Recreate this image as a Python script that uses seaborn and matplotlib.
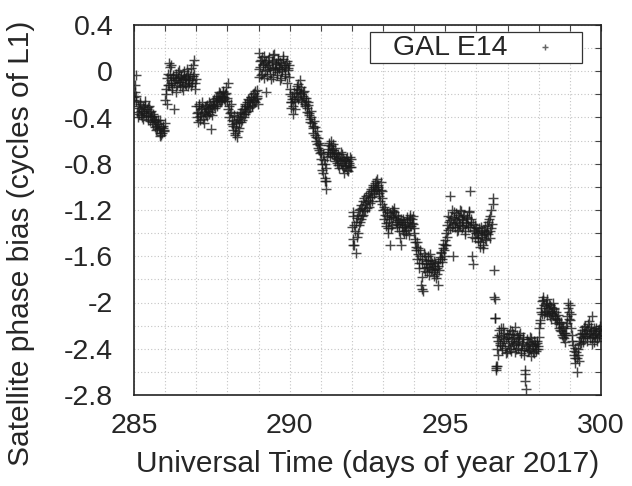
import numpy as np
import pandas as pd
import matplotlib
matplotlib.use("Agg")
import matplotlib.pyplot as plt
from matplotlib.ticker import MultipleLocator
from matplotlib.patches import Rectangle
import seaborn as sns

# ---------------- data ----------------
day_a = [
    285.02, 285.05, 285.08, 285.12, 285.15, 285.18, 285.22, 285.25, 285.28, 285.32, 285.35, 285.38, 285.42, 285.45, 285.48,
    285.52, 285.55, 285.58, 285.62, 285.65, 285.68, 285.72, 285.75, 285.78, 285.82, 285.85, 285.88, 285.92, 285.95, 285.98,
    286.02, 286.05, 286.08, 286.12, 286.15, 286.18, 286.22, 286.25, 286.28, 286.32, 286.35, 286.38, 286.42, 286.45, 286.48,
    286.52, 286.55, 286.58, 286.62, 286.65, 286.68, 286.72, 286.75, 286.78, 286.82, 286.85, 286.88, 286.92, 286.95, 286.98,
    287.02, 287.05, 287.08, 287.12, 287.15, 287.18, 287.22, 287.25, 287.28, 287.32, 287.35, 287.38, 287.42, 287.45, 287.48,
    287.52, 287.55, 287.58, 287.62, 287.65, 287.68, 287.72, 287.75, 287.78, 287.82, 287.85, 287.88, 287.92, 287.95, 287.98,
    288.02, 288.05, 288.08, 288.12, 288.15, 288.18, 288.22, 288.25, 288.28, 288.32, 288.35, 288.38, 288.42, 288.45, 288.48,
    288.52, 288.55, 288.58, 288.62, 288.65, 288.68, 288.72, 288.75, 288.78, 288.82, 288.85, 288.88, 288.92, 288.95, 288.98,
    289.02, 289.05, 289.08, 289.12, 289.15, 289.18, 289.22, 289.25, 289.28, 289.32, 289.35, 289.38, 289.42, 289.45, 289.48,
    289.52, 289.55, 289.58, 289.62, 289.65, 289.68, 289.72, 289.75, 289.78, 289.82, 289.85, 289.88, 289.92, 289.95, 289.98,
    290.02, 290.05, 290.08, 290.12, 290.15, 290.18, 290.22, 290.25, 290.28, 290.32, 290.35, 290.38, 290.42, 290.45, 290.48,
    290.52, 290.55, 290.58, 290.62, 290.65, 290.68, 290.72, 290.75, 290.78, 290.82, 290.85, 290.88, 290.92, 290.95, 290.98,
    291.02, 291.05, 291.08, 291.12, 291.15, 291.18, 291.22, 291.25, 291.28, 291.32, 291.35, 291.38, 291.42, 291.45, 291.48,
    291.52, 291.55, 291.58, 291.62, 291.65, 291.68, 291.72, 291.75, 291.78, 291.82, 291.85, 291.88, 291.92, 291.95, 291.98,
    292.02, 292.05, 292.08, 292.12, 292.15, 292.18, 292.22, 292.25, 292.28, 292.32, 292.35, 292.38, 292.42, 292.45, 292.48,
    292.52, 292.55, 292.58, 292.62, 292.65, 292.68, 292.72, 292.75, 292.78, 292.82, 292.85, 292.88, 292.92, 292.95, 292.98,
    293.02, 293.05, 293.08, 293.12, 293.15, 293.18, 293.22, 293.25, 293.28, 293.32, 293.35, 293.38, 293.42, 293.45, 293.48,
    293.52, 293.55, 293.58, 293.62, 293.65, 293.68, 293.72, 293.75, 293.78, 293.82, 293.85, 293.88, 293.92, 293.95, 293.98,
    294.02, 294.05, 294.08, 294.12, 294.15, 294.18, 294.22, 294.25, 294.28, 294.32, 294.35, 294.38, 294.42, 294.45, 294.48,
    294.52, 294.55, 294.58, 294.62, 294.65, 294.68, 294.72, 294.75, 294.78, 294.82, 294.85, 294.88, 294.92, 294.95, 294.98,
    295.02, 295.05, 295.08, 295.12, 295.15, 295.18, 295.22, 295.25, 295.28, 295.32, 295.35, 295.38, 295.42, 295.45, 295.48,
    295.52, 295.55, 295.58, 295.62, 295.65, 295.68, 295.72, 295.75, 295.78, 295.82, 295.85, 295.88, 295.92, 295.95, 295.98,
    296.02, 296.05, 296.08, 296.12, 296.15, 296.18, 296.22, 296.25, 296.28, 296.32, 296.35, 296.38, 296.42, 296.45, 296.48,
    296.52, 296.55, 296.58, 296.62, 296.65, 296.68, 296.72, 296.75, 296.78, 296.82, 296.85, 296.88, 296.92, 296.95, 296.98,
    297.02, 297.05, 297.08, 297.12, 297.15, 297.18, 297.22, 297.25, 297.28, 297.32, 297.35, 297.38, 297.42, 297.45, 297.48,
    297.52, 297.55, 297.58, 297.62, 297.65, 297.68, 297.72, 297.75, 297.78, 297.82, 297.85, 297.88, 297.92, 297.95, 297.98,
    298.02, 298.05, 298.08, 298.12, 298.15, 298.18, 298.22, 298.25, 298.28, 298.32, 298.35, 298.38, 298.42, 298.45, 298.48,
    298.52, 298.55, 298.58, 298.62, 298.65, 298.68, 298.72, 298.75, 298.78, 298.82, 298.85, 298.88, 298.92, 298.95, 298.98,
    299.02, 299.05, 299.08, 299.12, 299.15, 299.18, 299.22, 299.25, 299.28, 299.32, 299.35, 299.38, 299.42, 299.45, 299.48,
    299.52, 299.55, 299.58, 299.62, 299.65, 299.68, 299.72, 299.75, 299.78, 299.82, 299.85, 299.88, 299.92, 299.95, 299.98,
    296.59, 296.63, 296.645, 286.18, 289.02, 299.72, 294.25, 285.01, 290.03, 291.16, 292.03, 297.56,
]

bias_a = [
    -0.18, -0.03, -0.21, -0.30, -0.37, -0.27, -0.34, -0.40, -0.31, -0.36, -0.29, -0.38, -0.33, -0.42, -0.30,
    -0.35, -0.39, -0.44, -0.37, -0.41, -0.48, -0.43, -0.50, -0.46, -0.53, -0.42, -0.55, -0.49, -0.52, -0.45,
    -0.20, -0.28, -0.12, 0.07, -0.03, -0.10, -0.16, -0.05, -0.33, -0.08, -0.02, -0.12, -0.06, 0.01, -0.09,
    -0.04, -0.14, -0.07, 0.00, -0.11, -0.05, -0.02, -0.13, -0.08, 0.03, -0.10, -0.04, 0.10, -0.15, -0.07,
    -0.36, -0.44, -0.30, -0.39, -0.33, -0.27, -0.41, -0.35, -0.31, -0.38, -0.29, -0.34, -0.37, -0.28, -0.50,
    -0.32, -0.26, -0.30, -0.23, -0.28, -0.21, -0.25, -0.19, -0.26, -0.22, -0.17, -0.24, -0.20, -0.14, -0.23,
    -0.10, -0.30, -0.36, -0.28, -0.42, -0.47, -0.38, -0.53, -0.45, -0.57, -0.41, -0.49, -0.36, -0.44, -0.33,
    -0.40, -0.30, -0.37, -0.27, -0.34, -0.25, -0.31, -0.22, -0.29, -0.20, -0.26, -0.17, -0.24, -0.21, -0.28,
    0.02, 0.09, -0.03, 0.12, 0.05, -0.06, 0.07, -0.18, 0.01, 0.10, 0.04, -0.02, 0.08, 0.14, -0.05,
    0.03, 0.06, -0.01, 0.11, 0.02, -0.08, 0.05, 0.00, 0.13, 0.04, -0.04, 0.07, -0.10, 0.01, 0.05,
    -0.20, -0.32, -0.24, -0.37, -0.18, -0.26, -0.15, -0.22, -0.11, -0.19, -0.25, -0.14, -0.21, -0.17, -0.28,
    -0.23, -0.32, -0.27, -0.36, -0.41, -0.34, -0.45, -0.49, -0.43, -0.55, -0.60, -0.52, -0.66, -0.62, -0.71,
    -0.76, -0.85, -0.72, -0.92, -0.80, -1.02, -0.70, -0.64, -0.73, -0.60, -0.68, -0.63, -0.71, -0.66, -0.75,
    -0.79, -0.72, -0.84, -0.77, -0.70, -0.81, -0.75, -0.88, -0.78, -0.82, -0.74, -0.86, -0.79, -0.83, -0.76,
    -1.22, -1.45, -1.33, -1.57, -1.27, -1.40, -1.20, -1.30, -1.16, -1.25, -1.12, -1.21, -1.15, -1.08, -1.18,
    -1.11, -1.05, -1.14, -1.02, -1.09, -1.00, -1.06, -0.97, -1.03, -0.93, -1.00, -1.08, -0.96, -1.10, -1.04,
    -1.17, -1.24, -1.31, -1.22, -1.36, -1.28, -1.50, -1.26, -1.33, -1.21, -1.18, -1.27, -1.24, -1.32, -1.29,
    -1.38, -1.30, -1.50, -1.35, -1.28, -1.40, -1.33, -1.37, -1.29, -1.42, -1.34, -1.27, -1.31, -1.25, -1.36,
    -1.45, -1.52, -1.48, -1.58, -1.66, -1.55, -1.85, -1.62, -1.90, -1.70, -1.60, -1.67, -1.74, -1.63, -1.69,
    -1.58, -1.72, -1.66, -1.77, -1.64, -1.71, -1.75, -1.68, -1.85, -1.62, -1.57, -1.65, -1.53, -1.60, -1.50,
    -1.50, -1.43, -1.37, -1.30, -1.08, -1.26, -1.35, -1.60, -1.22, -1.31, -1.28, -1.38, -1.24, -1.33, -1.20,
    -1.29, -1.36, -1.25, -1.41, -1.31, -1.27, -1.35, -1.22, -1.04, -1.30, -1.60, -1.67, -1.38, -1.33, -1.40,
    -1.40, -1.47, -1.36, -1.52, -1.43, -1.38, -1.50, -1.41, -1.34, -1.46, -1.39, -1.30, -1.44, -1.25, -1.36,
    -1.10, -1.72, -1.97, -2.58, -2.30, -2.45, -2.28, -2.37, -2.22, -2.41, -2.33, -2.26, -2.39, -2.31, -2.43,
    -2.30, -2.38, -2.24, -2.42, -2.33, -2.27, -2.36, -2.21, -2.40, -2.31, -2.35, -2.28, -2.44, -2.37, -2.32,
    -2.41, -2.62, -2.75, -2.39, -2.34, -2.41, -2.30, -2.46, -2.36, -2.43, -2.33, -2.38, -2.42, -2.35, -2.40,
    -2.22, -2.15, -2.08, -1.99, -1.95, -2.10, -2.03, -1.97, -2.07, -2.01, -2.12, -2.04, -2.09, -2.00, -2.06,
    -2.13, -2.08, -2.15, -2.11, -2.19, -2.24, -2.17, -2.28, -2.22, -2.31, -2.26, -2.20, -2.12, -2.00, -2.08,
    -2.15, -2.22, -2.33, -2.42, -2.48, -2.39, -2.60, -2.45, -2.51, -2.36, -2.30, -2.26, -2.34, -2.21, -2.29,
    -2.25, -2.33, -2.19, -2.27, -2.31, -2.24, -2.36, -2.28, -2.22, -2.30, -2.26, -2.33, -2.23, -2.29, -2.25,
    -2.13, -2.57, -2.55, 0.05, 0.16, -2.12, -1.88, -0.25, -0.27, -0.95, -1.50, -2.68,
]

day_b = [
    285.000, 285.035, 285.065, 285.100, 285.135, 285.165, 285.200, 285.235, 285.265, 285.300, 285.335, 285.365, 285.400, 285.435, 285.465,
    285.500, 285.535, 285.565, 285.600, 285.635, 285.665, 285.700, 285.735, 285.765, 285.800, 285.835, 285.865, 285.900, 285.935, 285.965,
    286.000, 286.035, 286.065, 286.100, 286.135, 286.165, 286.200, 286.235, 286.265, 286.300, 286.335, 286.365, 286.400, 286.435, 286.465,
    286.500, 286.535, 286.565, 286.600, 286.635, 286.665, 286.700, 286.735, 286.765, 286.800, 286.835, 286.865, 286.900, 286.935, 286.965,
    287.000, 287.035, 287.065, 287.100, 287.135, 287.165, 287.200, 287.235, 287.265, 287.300, 287.335, 287.365, 287.400, 287.435, 287.465,
    287.500, 287.535, 287.565, 287.600, 287.635, 287.665, 287.700, 287.735, 287.765, 287.800, 287.835, 287.865, 287.900, 287.935, 287.965,
    288.000, 288.035, 288.065, 288.100, 288.135, 288.165, 288.200, 288.235, 288.265, 288.300, 288.335, 288.365, 288.400, 288.435, 288.465,
    288.500, 288.535, 288.565, 288.600, 288.635, 288.665, 288.700, 288.735, 288.765, 288.800, 288.835, 288.865, 288.900, 288.935, 288.965,
    289.000, 289.035, 289.065, 289.100, 289.135, 289.165, 289.200, 289.235, 289.265, 289.300, 289.335, 289.365, 289.400, 289.435, 289.465,
    289.500, 289.535, 289.565, 289.600, 289.635, 289.665, 289.700, 289.735, 289.765, 289.800, 289.835, 289.865, 289.900, 289.935, 289.965,
    290.000, 290.035, 290.065, 290.100, 290.135, 290.165, 290.200, 290.235, 290.265, 290.300, 290.335, 290.365, 290.400, 290.435, 290.465,
    290.500, 290.535, 290.565, 290.600, 290.635, 290.665, 290.700, 290.735, 290.765, 290.800, 290.835, 290.865, 290.900, 290.935, 290.965,
    291.000, 291.035, 291.065, 291.100, 291.135, 291.165, 291.200, 291.235, 291.265, 291.300, 291.335, 291.365, 291.400, 291.435, 291.465,
    291.500, 291.535, 291.565, 291.600, 291.635, 291.665, 291.700, 291.735, 291.765, 291.800, 291.835, 291.865, 291.900, 291.935, 291.965,
    292.000, 292.035, 292.065, 292.100, 292.135, 292.165, 292.200, 292.235, 292.265, 292.300, 292.335, 292.365, 292.400, 292.435, 292.465,
    292.500, 292.535, 292.565, 292.600, 292.635, 292.665, 292.700, 292.735, 292.765, 292.800, 292.835, 292.865, 292.900, 292.935, 292.965,
    293.000, 293.035, 293.065, 293.100, 293.135, 293.165, 293.200, 293.235, 293.265, 293.300, 293.335, 293.365, 293.400, 293.435, 293.465,
    293.500, 293.535, 293.565, 293.600, 293.635, 293.665, 293.700, 293.735, 293.765, 293.800, 293.835, 293.865, 293.900, 293.935, 293.965,
    294.000, 294.035, 294.065, 294.100, 294.135, 294.165, 294.200, 294.235, 294.265, 294.300, 294.335, 294.365, 294.400, 294.435, 294.465,
    294.500, 294.535, 294.565, 294.600, 294.635, 294.665, 294.700, 294.735, 294.765, 294.800, 294.835, 294.865, 294.900, 294.935, 294.965,
    295.000, 295.035, 295.065, 295.100, 295.135, 295.165, 295.200, 295.235, 295.265, 295.300, 295.335, 295.365, 295.400, 295.435, 295.465,
    295.500, 295.535, 295.565, 295.600, 295.635, 295.665, 295.700, 295.735, 295.765, 295.800, 295.835, 295.865, 295.900, 295.935, 295.965,
    296.000, 296.035, 296.065, 296.100, 296.135, 296.165, 296.200, 296.235, 296.265, 296.300, 296.335, 296.365, 296.400, 296.435, 296.465,
    296.500, 296.535, 296.565, 296.600, 296.635, 296.665, 296.700, 296.735, 296.765, 296.800, 296.835, 296.865, 296.900, 296.935, 296.965,
    297.000, 297.035, 297.065, 297.100, 297.135, 297.165, 297.200, 297.235, 297.265, 297.300, 297.335, 297.365, 297.400, 297.435, 297.465,
    297.500, 297.535, 297.565, 297.600, 297.635, 297.665, 297.700, 297.735, 297.765, 297.800, 297.835, 297.865, 297.900, 297.935, 297.965,
    298.000, 298.035, 298.065, 298.100, 298.135, 298.165, 298.200, 298.235, 298.265, 298.300, 298.335, 298.365, 298.400, 298.435, 298.465,
    298.500, 298.535, 298.565, 298.600, 298.635, 298.665, 298.700, 298.735, 298.765, 298.800, 298.835, 298.865, 298.900, 298.935, 298.965,
    299.000, 299.035, 299.065, 299.100, 299.135, 299.165, 299.200, 299.235, 299.265, 299.300, 299.335, 299.365, 299.400, 299.435, 299.465,
    299.500, 299.535, 299.565, 299.600, 299.635, 299.665, 299.700, 299.735, 299.765, 299.800, 299.835, 299.865, 299.900, 299.935, 299.965,
]

bias_b = [
    -0.22, -0.12, -0.26, -0.35, -0.40, -0.32, -0.28, -0.38, -0.34, -0.41, -0.33, -0.26, -0.36, -0.31, -0.39,
    -0.43, -0.34, -0.40, -0.46, -0.39, -0.44, -0.51, -0.47, -0.42, -0.49, -0.56, -0.48, -0.53, -0.47, -0.51,
    -0.25, -0.15, -0.06, -0.02, -0.12, 0.04, -0.08, -0.14, -0.03, -0.10, -0.18, -0.06, -0.01, -0.09, -0.13,
    -0.05, -0.08, -0.16, -0.03, -0.07, -0.12, 0.02, -0.06, -0.10, -0.04, -0.13, -0.08, 0.05, -0.02, -0.10,
    -0.30, -0.40, -0.35, -0.28, -0.42, -0.37, -0.32, -0.45, -0.36, -0.30, -0.39, -0.33, -0.27, -0.35, -0.31,
    -0.38, -0.29, -0.24, -0.32, -0.26, -0.30, -0.23, -0.18, -0.27, -0.21, -0.25, -0.18, -0.22, -0.26, -0.19,
    -0.26, -0.33, -0.40, -0.35, -0.46, -0.51, -0.43, -0.55, -0.48, -0.39, -0.52, -0.44, -0.40, -0.35, -0.42,
    -0.37, -0.33, -0.28, -0.35, -0.30, -0.24, -0.32, -0.27, -0.22, -0.30, -0.25, -0.19, -0.27, -0.23, -0.16,
    -0.05, 0.04, 0.10, -0.02, 0.06, 0.13, 0.00, 0.08, -0.04, 0.05, 0.12, 0.02, -0.07, 0.09, 0.03,
    0.15, 0.01, 0.07, -0.03, 0.10, 0.04, 0.08, -0.06, 0.02, 0.11, 0.05, -0.02, 0.09, 0.03, -0.05,
    -0.15, -0.27, -0.21, -0.30, -0.24, -0.33, -0.19, -0.13, -0.24, -0.16, -0.08, -0.20, -0.27, -0.18, -0.23,
    -0.30, -0.26, -0.35, -0.29, -0.38, -0.44, -0.40, -0.47, -0.53, -0.48, -0.57, -0.63, -0.58, -0.68, -0.64,
    -0.70, -0.80, -0.88, -0.77, -0.95, -0.84, -0.74, -0.67, -0.62, -0.70, -0.65, -0.72, -0.68, -0.73, -0.78,
    -0.71, -0.76, -0.81, -0.74, -0.79, -0.72, -0.84, -0.77, -0.82, -0.76, -0.85, -0.78, -0.81, -0.74, -0.83,
    -1.35, -1.25, -1.50, -1.38, -1.30, -1.43, -1.24, -1.33, -1.19, -1.28, -1.18, -1.24, -1.10, -1.20, -1.13,
    -1.07, -1.17, -1.09, -1.04, -1.12, -0.98, -1.04, -1.00, -0.95, -1.02, -0.98, -1.05, -1.12, -1.03, -1.15,
    -1.20, -1.28, -1.19, -1.34, -1.25, -1.40, -1.30, -1.23, -1.36, -1.20, -1.26, -1.22, -1.30, -1.35, -1.25,
    -1.33, -1.44, -1.28, -1.32, -1.38, -1.30, -1.35, -1.41, -1.26, -1.36, -1.30, -1.24, -1.34, -1.28, -1.32,
    -1.40, -1.48, -1.55, -1.62, -1.53, -1.70, -1.60, -1.78, -1.66, -1.57, -1.73, -1.64, -1.69, -1.60, -1.76,
    -1.67, -1.63, -1.71, -1.68, -1.74, -1.66, -1.79, -1.70, -1.65, -1.72, -1.61, -1.56, -1.62, -1.49, -1.55,
    -1.46, -1.40, -1.33, -1.25, -1.36, -1.29, -1.20, -1.32, -1.27, -1.35, -1.23, -1.30, -1.37, -1.26, -1.33,
    -1.21, -1.28, -1.34, -1.24, -1.38, -1.30, -1.26, -1.33, -1.21, -1.35, -1.28, -1.43, -1.32, -1.37, -1.44,
    -1.36, -1.44, -1.39, -1.48, -1.35, -1.42, -1.53, -1.37, -1.45, -1.40, -1.33, -1.41, -1.28, -1.38, -1.20,
    -1.32, -1.15, -1.95, -2.13, -2.55, -2.40, -2.33, -2.24, -2.35, -2.29, -2.38, -2.22, -2.32, -2.44, -2.27,
    -2.35, -2.27, -2.40, -2.32, -2.25, -2.37, -2.30, -2.43, -2.34, -2.28, -2.39, -2.33, -2.26, -2.41, -2.36,
    -2.30, -2.45, -2.58, -2.38, -2.32, -2.42, -2.35, -2.40, -2.31, -2.37, -2.44, -2.36, -2.40, -2.33, -2.38,
    -2.30, -2.18, -2.05, -2.10, -1.98, -2.02, -2.08, -2.00, -2.11, -2.05, -2.09, -2.02, -2.14, -2.07, -2.10,
    -2.05, -2.12, -2.18, -2.14, -2.22, -2.17, -2.25, -2.21, -2.30, -2.26, -2.34, -2.28, -2.18, -2.05, -2.14,
    -2.02, -2.10, -2.28, -2.37, -2.45, -2.52, -2.43, -2.48, -2.40, -2.33, -2.27, -2.35, -2.24, -2.31, -2.27,
    -2.20, -2.29, -2.23, -2.16, -2.26, -2.21, -2.30, -2.25, -2.34, -2.27, -2.22, -2.31, -2.24, -2.28, -2.20,
]

series_label = "GAL E14"
x_ticks = [285, 290, 295, 300]
y_ticks = [0.4, 0, -0.4, -0.8, -1.2, -1.6, -2, -2.4, -2.8]
y_tick_labels = ["0.4", "0", "-0.4", "-0.8", "-1.2", "-1.6", "-2", "-2.4", "-2.8"]

df = pd.DataFrame({"day": day_a + day_b, "bias": bias_a + bias_b})

# ---------------- style ----------------
sns.set_style("white")
plt.rcParams["font.family"] = ["Liberation Sans", "DejaVu Sans"]

fig = plt.figure(figsize=(6.32, 4.86), dpi=100)
ax = fig.add_axes([134 / 632, 1 - 395 / 486, (601 - 134) / 632, (395 - 25) / 486])

sns.scatterplot(data=df, x="day", y="bias", marker="+", s=44, color="#1a1a1a",
                linewidth=1.05, alpha=0.8, ax=ax, label=series_label, zorder=3)

ax.set_xlim(285, 300)
ax.set_ylim(-2.8, 0.4)
ax.set_xticks(x_ticks)
ax.set_xticklabels([str(t) for t in x_ticks])
ax.set_yticks(y_ticks)
ax.set_yticklabels(y_tick_labels)
ax.xaxis.set_minor_locator(MultipleLocator(1))
ax.yaxis.set_minor_locator(MultipleLocator(0.2))

ax.grid(True, which="both", color="#c4c4c4", linestyle=(0, (1, 2)), linewidth=0.8, zorder=0)
ax.set_axisbelow(True)

for side in ["left", "right", "top", "bottom"]:
    ax.spines[side].set_visible(True)
    ax.spines[side].set_color("#222222")
    ax.spines[side].set_linewidth(1.2)

FS = 20.5
LFS = 21.5
ax.tick_params(which="both", direction="in", top=True, right=True, length=4,
               width=0.8, color="#444444", labelsize=FS)
ax.tick_params(axis="x", which="major", pad=13)
ax.tick_params(axis="y", which="major", pad=15)

ax.set_xlabel("Universal Time (days of year 2017)", fontsize=LFS)
ax.set_ylabel("Satellite phase bias (cycles of L1)", fontsize=LFS)
ax.xaxis.set_label_coords(0.5, -0.148)
ax.yaxis.set_label_coords(-0.212, 0.41)

# legend: frame box plus text/marker, laid out like the reference key
ax.add_patch(Rectangle((0.505, 0.897), 0.454, 0.084, transform=ax.transAxes,
                       facecolor="white", edgecolor="#333333", linewidth=0.9, zorder=5))
leg = ax.legend(loc="center left", bbox_to_anchor=(0.555, 0.939), markerfirst=False,
                frameon=False, fontsize=FS, markerscale=0.6, borderpad=0.0,
                handletextpad=0.6, handlelength=1.4, borderaxespad=0.0)
leg.set_zorder(6)
for h in leg.legend_handles:
    h.set_color("#666666")
    h.set_alpha(1)

fig.savefig("out.png", dpi=100)
